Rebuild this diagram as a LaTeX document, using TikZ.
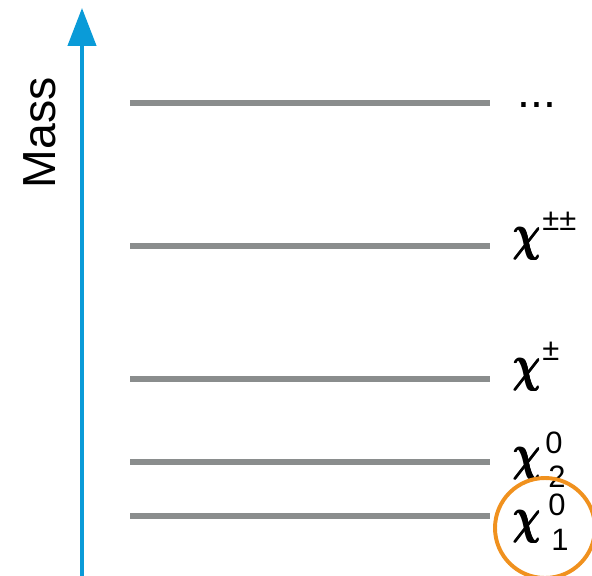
\documentclass[tikz,border=0pt]{standalone}
\usepackage{amsmath,bm}
\usepackage{graphicx}
\usepackage{fontspec}
\setmainfont{Liberation Sans}
\usetikzlibrary{arrows.meta,positioning}
\definecolor{axisblue}{HTML}{0A9BD8}
\definecolor{levelgray}{HTML}{8A8D8D}
\definecolor{ringorange}{HTML}{F0911E}
% heavy chi: bold math chi printed a few times with small offsets
\newcommand{\heavychi}{\rlap{$\bm{\chi}$}\kern0.5pt\rlap{$\bm{\chi}$}\rlap{\raisebox{0.4pt}{$\bm{\chi}$}}\kern0.5pt$\bm{\chi}$}
\newcommand{\bigchi}{\scalebox{1.1}[1.42]{\Huge\heavychi}}

\begin{document}
\begin{tikzpicture}[
  x=0.025cm,y=-0.025cm,
  massaxis/.style={-{Triangle[length=27pt,width=20pt]},line width=2.8pt,axisblue},
  level/.style={line width=3.6pt,levelgray},
  chi/.style={anchor=base west,inner sep=0pt},
  script/.style={anchor=base west,inner sep=0pt,font=\fontsize{22}{22}\selectfont},
  ring/.style={line width=2.8pt,ringorange}
]
\useasboundingbox (0,0) rectangle (592,575);
\coordinate (axis-base) at (82,577);
\coordinate (axis-tip) at (82,8);
\draw[massaxis] (axis-base) -- (axis-tip);
\node[rotate=90,inner sep=0pt,font=\fontsize{33}{33}\selectfont] (mass) at (40,133) {Mass};
% mass levels
\foreach \y/\n in {103/dots,246/cpp,379/cp,462/ntwo,516/none}{
  \coordinate (\n-l) at (130,\y);
  \coordinate (\n-r) at (490,\y);
  \draw[level] (\n-l) -- (\n-r);
}
\node[anchor=base west,inner sep=0pt,font=\fontsize{33}{33}\selectfont] (lbl-dots) at (517,107) {...};
\node[chi] (chi-pp) at (512,250) {\bigchi};
\node[script] (chi-pp-sup) at (542,230) {±±};
\node[chi] (chi-p) at (512,381) {\bigchi};
\node[script] (chi-p-sup) at (542,360) {±};
\node[chi] (chi-two) at (512,470) {\bigchi};
\node[script] (chi-two-sup) at (545,453) {0};
\node[script] (chi-two-sub) at (548,487) {2};
\node[chi] (chi-one) at (512,533) {\bigchi};
\node[script] (chi-one-sup) at (548,515) {0};
\node[script] (chi-one-sub) at (551,550) {1};
\draw[ring] (545,528) circle [radius=50];
\end{tikzpicture}
\end{document}
